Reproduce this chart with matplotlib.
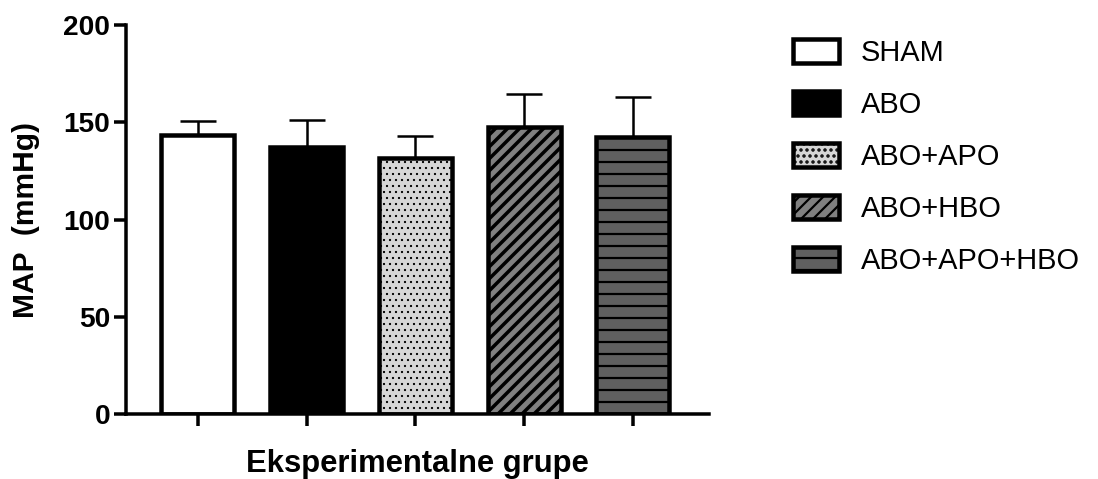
import numpy as np
import matplotlib.pyplot as plt

groups = ['SHAM', 'ABO', 'ABO+APO', 'ABO+HBO', 'ABO+APO+HBO']
means = [143.4, 137.4, 131.8, 147.7, 142.6]
sd = [7.4, 13.8, 11.3, 16.8, 20.5]
colors = ['white', 'black', '#d6d6d6', '#808080', '#606060']
hatches = ['', '', '..', '//', '-']
hatch_lw = [1.0, 1.0, 1.0, 3.5, 2.2]

plt.rcParams['font.family'] = ['Liberation Sans', 'DejaVu Sans']
plt.rcParams['hatch.linewidth'] = 2.2
plt.rcParams['hatch.color'] = 'black'

fig = plt.figure(figsize=(1098 / 72, 479 / 72), dpi=72)
ax = fig.add_axes([126 / 1098, 1 - 414 / 479, (709 - 126) / 1098, (414 - 25) / 479])

x = np.arange(len(groups))
ax.errorbar(x, means, yerr=[np.zeros(len(sd)), sd], fmt='none', ecolor='black',
            elinewidth=2.5, capsize=18, capthick=2.5, zorder=1)
bars = ax.bar(x, means, width=0.67, color=colors, edgecolor='black',
              linewidth=4.5, zorder=2)
for b, h, lw in zip(bars, hatches, hatch_lw):
    b.set_hatch(h)
    if hasattr(b, 'set_hatch_linewidth'):
        b.set_hatch_linewidth(lw)

ax.set_xlim(-0.66, 4.70)
ax.set_ylim(0, 200)
ax.set_yticks([0, 50, 100, 150, 200])
ax.set_xticks(x)
ax.set_xticklabels([])
for s in ['top', 'right']:
    ax.spines[s].set_visible(False)
for s in ['left', 'bottom']:
    ax.spines[s].set_linewidth(3.5)
ax.tick_params(axis='both', length=12, width=3.5, labelsize=28, pad=4)
for t in ax.get_yticklabels():
    t.set_fontweight('bold')

ax.set_ylabel('MAP  (mmHg)', fontsize=30, fontweight='bold', labelpad=23)
ax.set_xlabel('Eksperimentalne grupe', fontsize=31, fontweight='bold', labelpad=19)

ax.legend(list(bars), groups, loc='upper left', bbox_to_anchor=(793 / 1098, 1 - 39 / 479),
          bbox_transform=fig.transFigure, frameon=False, fontsize=29,
          handlelength=1.6, handleheight=0.92, handletextpad=0.75,
          labelspacing=0.82, borderpad=0, borderaxespad=0)

fig.savefig('out.png', dpi=72)
